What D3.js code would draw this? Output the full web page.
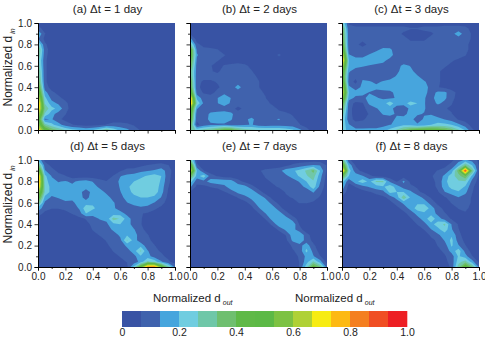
<!DOCTYPE html>
<html>
<head>
<meta charset="utf-8">
<script src="https://cdn.jsdelivr.net/npm/d3@7"></script>
<style>
html, body { margin: 0; padding: 0; background: #fff; }
svg { display: block; }
text { font-family: "Liberation Sans", Arial, sans-serif; fill: #222; }
</style>
</head>
<body>
<svg id="chart" width="485" height="340"></svg>
<script>
// density, in percent. rows go from y=1.0 down to y=0.0, columns x=0.0 to 1.0
var gridA = [
  [5,3,3,3,3,3,3,3,3,3,3,3,3,3,3,3,3,3,3,3,3],
  [9,4,3,3,3,3,3,3,3,3,3,3,3,3,3,3,3,3,3,3,3],
  [20,7,3,3,3,3,3,3,3,3,3,3,3,3,3,3,3,3,3,3,3],
  [14,5,3,3,3,3,3,3,3,3,3,3,3,3,3,3,3,3,3,3,3],
  [28,8,3,3,3,3,3,3,3,3,3,3,3,3,3,3,3,3,3,3,3],
  [36,10,3,3,3,3,3,3,3,3,3,3,3,3,3,3,3,3,3,3,3],
  [34,9,3,3,3,3,3,3,3,3,3,3,3,3,3,3,3,3,3,3,3],
  [30,8,3,3,3,3,3,3,3,3,3,3,3,3,3,3,3,3,3,3,3],
  [32,8,3,3,3,3,3,3,3,3,3,3,3,3,3,3,3,3,3,3,3],
  [36,8,3,3,3,3,3,3,3,3,3,3,3,3,3,3,3,3,3,3,3],
  [38,8,3,3,3,3,3,3,3,3,3,3,3,3,3,3,3,3,3,3,3],
  [42,8,3,3,3,3,3,3,3,3,3,3,3,3,3,3,3,3,3,3,3],
  [50,10,4,3,3,3,3,3,3,3,3,3,3,3,3,3,3,3,3,3,3],
  [58,16,8,5,3,3,3,3,3,3,3,3,3,3,3,3,3,3,3,3,3],
  [70,22,11,8,5,3,3,3,3,3,3,3,3,3,3,3,3,3,3,3,3],
  [82,26,16,12,8,4,3,3,3,3,3,3,3,3,3,3,3,3,3,3,3],
  [80,32,22,18,9,4,3,3,3,3,3,3,3,3,3,3,3,3,3,3,3],
  [66,26,16,10,7,3,3,3,3,3,3,3,3,3,3,3,3,3,3,3,3],
  [54,12,14,8,5,3,3,3,3,3,3,3,3,3,3,3,3,3,3,3,3],
  [62,30,22,16,10,7,5,4,4,5,7,9,9,8,6,3,3,3,3,3,3],
  [74,50,38,32,26,22,20,18,20,24,32,24,18,15,10,6,3,3,3,3,3]
];
var gridB = [
  [4,3,3,3,3,3,3,3,3,3,3,3,3,3,3,3,3,3,3,3,3],
  [4,3,3,3,3,3,3,3,3,3,3,3,3,3,3,3,3,3,3,3,3],
  [6,3,3,3,3,3,3,3,3,3,3,3,3,3,3,3,3,3,3,3,3],
  [16,4,3,3,3,3,3,3,3,3,3,3,3,3,3,3,3,3,3,3,3],
  [32,8,5,4,3,3,3,3,3,3,3,3,3,3,3,3,3,3,3,3,3],
  [50,12,8,8,7,4,3,3,3,3,3,3,3,3,3,3,3,3,3,3,3],
  [50,14,10,9,9,7,5,4,3,3,3,3,3,8,3,3,3,3,3,3,3],
  [46,12,9,8,7,5,4,4,3,3,3,3,3,3,3,3,3,3,3,3,3],
  [42,10,8,7,5,7,8,9,8,5,3,3,3,3,3,3,3,3,3,3,3],
  [36,10,8,7,6,8,9,10,9,7,4,3,3,3,3,3,3,3,3,3,3],
  [38,9,8,8,8,9,10,10,10,8,6,3,3,3,3,3,3,3,3,3,3],
  [44,8,6,6,7,9,10,10,10,9,7,4,3,3,3,3,3,3,3,3,3],
  [46,8,5,5,6,8,10,16,10,9,7,4,3,3,3,3,3,3,3,3,3],
  [58,10,6,5,8,10,10,10,10,10,8,6,3,3,3,3,3,3,3,3,3],
  [80,18,10,9,13,20,13,10,10,10,9,7,3,3,3,3,3,3,3,3,3],
  [84,26,12,10,13,18,12,10,10,9,9,8,6,4,3,3,3,3,3,3,3],
  [62,14,9,9,8,9,9,5,8,9,9,9,8,6,4,3,3,3,3,3,3],
  [54,9,9,15,17,18,15,9,8,9,9,9,11,8,8,6,3,3,3,3,3],
  [50,8,9,16,18,18,14,9,12,15,10,10,12,14,9,8,5,3,3,3,3],
  [42,5,9,12,12,12,10,10,12,14,10,9,10,10,10,9,7,4,3,3,3],
  [36,24,30,32,38,44,44,36,30,28,27,26,26,26,24,21,15,9,3,3,3]
];
var gridC = [
  [28,6,4,4,4,4,4,4,4,4,4,4,4,4,4,4,4,4,4,3,3],
  [40,8,8,8,8,8,8,8,8,8,7,7,8,8,8,9,9,9,8,5,3],
  [44,9,8,8,8,8,8,8,8,6,5,5,5,6,8,10,11,17,10,6,3],
  [46,9,8,8,8,8,8,8,8,8,6,6,6,8,8,9,10,10,9,6,3],
  [50,9,8,5,8,9,10,9,8,8,8,8,8,8,8,8,9,9,8,5,3],
  [58,10,7,9,10,12,15,15,9,8,8,8,8,8,8,8,8,8,8,5,3],
  [72,14,11,11,14,17,18,16,10,9,9,9,9,8,8,8,8,8,7,4,3],
  [80,20,16,16,16,16,15,11,9,9,10,9,9,8,8,8,7,6,4,3,3],
  [68,18,15,14,13,12,11,10,11,15,13,10,9,8,8,7,6,4,3,3,3],
  [56,14,11,10,9,9,9,9,12,16,15,11,9,8,7,6,5,3,3,3,3],
  [52,12,8,12,10,9,10,11,14,16,16,14,11,9,7,6,5,3,3,3,3],
  [60,10,5,14,14,12,14,15,16,15,16,15,14,11,7,6,5,3,3,3,3],
  [68,15,10,15,16,15,15,16,16,16,17,16,15,12,7,5,4,3,3,3,3],
  [72,20,16,15,13,11,12,12,15,16,16,16,16,10,15,15,9,5,3,3,3],
  [62,16,12,12,15,14,12,12,14,15,14,15,14,10,18,15,8,5,3,3,3],
  [48,10,5,6,15,16,17,24,16,17,23,20,14,9,15,11,7,4,3,3,3],
  [40,9,4,5,9,13,15,16,10,7,16,18,14,10,8,7,6,3,3,3,3],
  [32,9,4,5,7,9,14,14,13,12,15,14,13,13,9,8,7,4,3,3,3],
  [28,9,5,6,8,9,10,12,14,15,15,11,14,15,16,13,10,6,4,3,3],
  [26,14,9,9,10,10,11,13,15,18,17,14,15,20,22,22,20,15,10,4,3],
  [26,16,15,15,15,15,17,22,28,36,42,46,48,48,46,42,36,28,19,8,3]
];
var gridD = [
  [20,5,3,3,3,3,3,3,3,3,3,3,3,3,3,3,3,3,3,3,3],
  [38,10,5,3,3,3,3,3,3,3,3,3,3,3,3,5,7,8,9,7,3],
  [62,14,9,5,3,3,3,3,3,3,3,3,6,9,10,12,13,14,17,10,3],
  [82,22,13,9,7,3,3,3,3,3,3,7,13,15,16,18,21,23,20,9,3],
  [86,24,15,13,14,12,15,16,13,9,7,9,15,16,20,23,24,24,19,8,3],
  [80,26,17,15,16,15,16,18,16,12,8,9,14,18,24,26,26,25,17,7,3],
  [64,26,17,16,20,17,17,8,17,16,12,9,13,17,22,25,26,24,16,6,3],
  [50,18,12,14,18,15,17,10,18,17,16,11,11,16,18,20,20,18,13,5,3],
  [36,12,9,10,11,12,16,17,19,18,17,14,10,13,16,17,16,13,9,4,3],
  [18,9,7,7,8,9,14,24,21,18,18,15,9,8,10,12,11,8,5,3,3],
  [10,5,4,4,5,7,10,20,17,15,17,16,17,11,7,7,6,4,3,3,3],
  [4,3,3,3,3,3,5,7,9,14,15,30,26,17,10,7,5,3,3,3,3],
  [3,3,3,3,3,3,3,5,8,9,12,18,20,18,9,7,4,3,3,3,3],
  [3,3,3,3,3,3,3,4,7,8,9,15,17,18,14,8,5,3,3,3,3],
  [3,3,3,3,3,3,3,3,5,7,8,9,15,19,17,9,7,4,3,3,3],
  [3,3,3,3,3,3,3,3,3,5,7,8,11,28,17,9,8,5,3,3,3],
  [3,3,3,3,3,3,3,3,3,3,6,8,9,15,18,18,9,7,3,3,3],
  [3,3,3,3,3,3,3,3,3,3,3,7,8,10,17,28,14,8,6,3,3],
  [3,3,3,3,3,3,3,3,3,3,3,5,7,8,11,19,16,10,8,5,3],
  [3,3,3,3,3,3,3,3,3,3,3,3,5,7,9,16,28,24,14,8,4],
  [3,3,3,3,3,3,3,3,3,3,3,3,3,5,22,50,82,84,54,30,12]
];
var gridE = [
  [32,5,3,3,3,3,3,3,3,3,3,3,3,3,3,3,3,3,3,3,3],
  [56,8,3,3,3,3,3,3,3,3,3,3,3,3,5,8,10,12,14,13,6],
  [72,20,7,3,3,3,3,3,3,3,6,8,9,11,17,19,22,28,36,20,5],
  [42,17,24,10,6,3,3,3,3,3,5,7,8,9,12,16,21,26,30,16,4],
  [24,9,11,16,18,18,17,9,5,3,3,6,7,8,9,10,14,20,26,14,3],
  [15,5,5,7,8,11,18,18,16,9,4,3,6,7,8,9,11,15,24,11,3],
  [6,3,3,3,4,6,10,15,19,18,10,4,3,5,7,8,9,9,14,8,3],
  [3,3,3,3,3,3,3,7,10,16,19,12,5,3,6,7,8,9,9,6,3],
  [3,3,3,3,3,3,3,3,5,9,18,19,10,5,3,5,7,7,6,4,3],
  [3,3,3,3,3,3,3,3,3,5,12,20,18,9,4,3,3,3,3,3,3],
  [3,3,3,3,3,3,3,3,3,3,6,13,19,17,9,4,3,3,3,3,3],
  [3,3,3,3,3,3,3,3,3,3,3,7,16,20,17,10,4,3,3,3,3],
  [3,3,3,3,3,3,3,3,3,3,3,3,8,18,20,18,6,3,3,3,3],
  [3,3,3,3,3,3,3,3,3,3,3,3,3,8,15,16,9,3,3,3,3],
  [3,3,3,3,3,3,3,3,3,3,3,3,3,3,7,17,20,9,4,3,3],
  [3,3,3,3,3,3,3,3,3,3,3,3,3,3,5,15,19,10,5,3,3],
  [3,3,3,3,3,3,3,3,3,3,3,3,3,3,3,8,11,17,8,3,3],
  [3,3,3,3,3,3,3,3,3,3,3,3,3,3,3,6,9,22,11,4,3],
  [3,3,3,3,3,3,3,3,3,3,3,3,3,3,3,3,8,15,14,7,3],
  [3,3,3,3,3,3,3,3,3,3,3,3,3,3,3,3,7,17,28,16,4],
  [3,3,3,3,3,3,3,3,3,3,3,3,3,3,3,3,7,24,46,34,10]
];
var gridF = [
  [36,8,3,3,3,3,3,3,3,3,3,3,3,3,3,3,5,11,14,11,5],
  [56,18,6,4,3,3,3,3,3,3,3,3,3,3,3,5,9,17,34,20,6],
  [86,24,9,5,3,3,3,3,3,3,3,3,3,5,7,9,16,38,92,34,5],
  [44,20,18,14,8,5,3,3,3,3,3,3,4,6,9,15,24,30,40,18,5],
  [24,8,18,24,18,28,28,12,6,15,5,3,3,5,8,18,24,26,26,11,4],
  [18,4,7,11,14,17,19,24,17,10,8,6,3,4,8,17,22,25,19,8,3],
  [12,3,3,4,6,9,11,22,20,20,15,8,5,3,6,13,17,19,15,7,3],
  [6,3,3,3,3,3,5,9,16,32,19,18,11,6,3,6,9,13,10,6,3],
  [3,3,3,3,3,3,3,5,9,15,18,19,18,10,5,4,7,9,9,6,3],
  [3,3,3,3,3,3,3,3,5,9,16,23,26,17,9,5,4,7,8,5,3],
  [3,3,3,3,3,3,3,3,3,5,9,16,18,18,11,7,5,5,6,4,3],
  [3,3,3,3,3,3,3,3,3,3,6,10,17,24,17,10,6,3,3,3,3],
  [3,3,3,3,3,3,3,3,3,3,3,7,11,18,23,28,13,6,3,3,3],
  [3,3,3,3,3,3,3,3,3,3,3,3,7,13,18,24,14,7,3,3,3],
  [3,3,3,3,3,3,3,3,3,3,3,3,3,8,12,17,19,9,3,3,3],
  [3,3,3,3,3,3,3,3,3,3,3,3,3,5,8,14,22,10,5,3,3],
  [3,3,3,3,3,3,3,3,3,3,3,3,3,3,7,10,21,14,7,3,3],
  [3,3,3,3,3,3,3,3,3,3,3,3,3,3,5,8,16,24,11,4,3],
  [3,3,3,3,3,3,3,3,3,3,3,3,3,3,3,6,10,21,16,7,3],
  [3,3,3,3,3,3,3,3,3,3,3,3,3,3,3,5,9,24,30,16,5],
  [3,3,3,3,3,3,3,3,3,3,3,3,3,3,3,3,8,30,50,34,12]
];

var panelTitles = ['(a)  \u0394t = 1 day', '(b)  \u0394t = 2 days', '(c)  \u0394t = 3 days',
                   '(d)  \u0394t = 5 days', '(e)  \u0394t = 7 days', '(f)  \u0394t = 8 days'];
var panelGrids = [gridA, gridB, gridC, gridD, gridE, gridF];
var levelColors = ['#3953a4', '#3f62ad', '#46a5dd', '#70cde0', '#6fc7a8', '#6fbf6f', '#5fb947', '#5cb946',
                   '#7dc242', '#afd136', '#f7ec13', '#fdb913', '#f47f20', '#f04e23', '#ed1f24'];
var majorTicks = [0, 0.2, 0.4, 0.6, 0.8, 1];
var minorTicks = [0.1, 0.3, 0.5, 0.7, 0.9];
var colorTicks = [0, 0.2, 0.4, 0.6, 0.8, 1];

var svg = d3.select('#chart')
var plotW = 137, plotH = 107
var lefts = [38, 190, 342]
var tops = [23, 160]
var gridN = 21
var thresholds = levelColors.map((c, i) => i * 100 / levelColors.length)
var contours = d3.contours().size([gridN, gridN]).thresholds(thresholds)

svg.append('defs').append('filter').attr('id', 'soft')
    .attr('x', '-5%').attr('y', '-5%').attr('width', '110%').attr('height', '110%')
    .append('feGaussianBlur').attr('stdDeviation', 0.45)

function subLabel(sel, sub) {
    sel.append('tspan').text('Normalized d')
    sel.append('tspan').text(sub)
        .attr('dy', 3).attr('dx', 2)
        .attr('font-size', 7).attr('font-style', 'italic')
}

panelGrids.forEach(function(grid, i) {
    var col = i % 3, row = Math.floor(i / 3)
    var x0 = lefts[col], y0 = tops[row]
    var x = d3.scaleLinear().domain([0, 1]).range([0, plotW])
    var y = d3.scaleLinear().domain([0, 1]).range([plotH, 0])
    // contour coordinates have the grid points at i + 0.5
    var cx = d3.scaleLinear().domain([0.5, gridN - 0.5]).range([0, plotW])
    var cy = d3.scaleLinear().domain([0.5, gridN - 0.5]).range([0, plotH])
    var path = d3.geoPath(d3.geoTransform({
        point: function(a, b) { this.stream.point(cx(a), cy(b)) }
    }))

    var g = svg.append('g').attr('transform', 'translate(' + x0 + ',' + y0 + ')')
    g.append('clipPath').attr('id', 'clip' + i)
        .append('rect').attr('width', plotW).attr('height', plotH)
    g.append('g').attr('clip-path', 'url(#clip' + i + ')')
        .append('g').attr('filter', 'url(#soft)')
        .selectAll('path')
        .data(contours(grid.flat()))
        .join('path')
        .attr('d', path)
        .attr('fill', (d, k) => levelColors[k])

    // minor ticks first, the labelled axes go on top
    g.append('g').attr('transform', 'translate(0,' + plotH + ')')
        .call(d3.axisBottom(x).tickValues(minorTicks).tickSize(2).tickFormat(''))
    g.append('g')
        .call(d3.axisLeft(y).tickValues(minorTicks).tickSize(2).tickFormat(''))
    var xAxis = g.append('g').attr('class', 'x').attr('transform', 'translate(0,' + plotH + ')')
        .call(d3.axisBottom(x).tickValues(majorTicks).tickSize(3.5).tickPadding(1.5)
            .tickFormat(row == 1 ? d3.format('.1f') : ''))
    var yAxis = g.append('g').attr('class', 'y')
        .call(d3.axisLeft(y).tickValues(majorTicks).tickSize(3.5)
            .tickFormat(col == 0 ? d3.format('.1f') : ''))
    g.selectAll('.domain').attr('stroke', '#000').attr('stroke-width', 1)
    g.selectAll('.tick line').attr('stroke', '#000').attr('stroke-width', 0.8)
    g.selectAll('.tick text').attr('font-size', 10).attr('font-family', 'Liberation Sans').attr('fill', '#222')
    xAxis.selectAll('.tick text').attr('dy', '0.75em')
    yAxis.selectAll('.tick text').attr('dx', '0.05em')

    g.append('text').text(panelTitles[i])
        .attr('x', plotW / 2 + 1).attr('y', -10)
        .attr('text-anchor', 'middle').attr('font-size', 11.5)

    if (col == 0) {
        var t = svg.append('text')
            .attr('transform', 'translate(12,' + (y0 + plotH / 2 + 30) + ') rotate(-90)')
            .attr('font-size', 12)
        subLabel(t, 'in')
    }
})

// colour key
var keyX = d3.scaleLinear().domain([0, 1]).range([122, 407])
var band = d3.scaleBand().domain(d3.range(levelColors.length)).range([122, 407])
var key = svg.append('g')
key.selectAll('rect').data(levelColors).join('rect')
    .attr('x', (d, i) => band(i))
    .attr('y', 311)
    .attr('width', band.bandwidth() + 0.3)
    .attr('height', 16)
    .attr('fill', d => d)
var keyAxis = svg.append('g').attr('transform', 'translate(0,327)')
    .call(d3.axisBottom(keyX).tickValues(colorTicks).tickSize(0).tickPadding(1)
        .tickFormat(d => d === 0 ? '0' : d3.format('.1f')(d)))
keyAxis.select('.domain').remove()
keyAxis.selectAll('.tick text').attr('font-size', 10.5).attr('font-family', 'Liberation Sans').attr('fill', '#222').attr('dy', '0.8em')

;[153, 295].forEach(function(px) {
    var t = svg.append('text').attr('x', px).attr('y', 302).attr('font-size', 11.5)
    subLabel(t, 'out')
})
</script>
</body>
</html>
